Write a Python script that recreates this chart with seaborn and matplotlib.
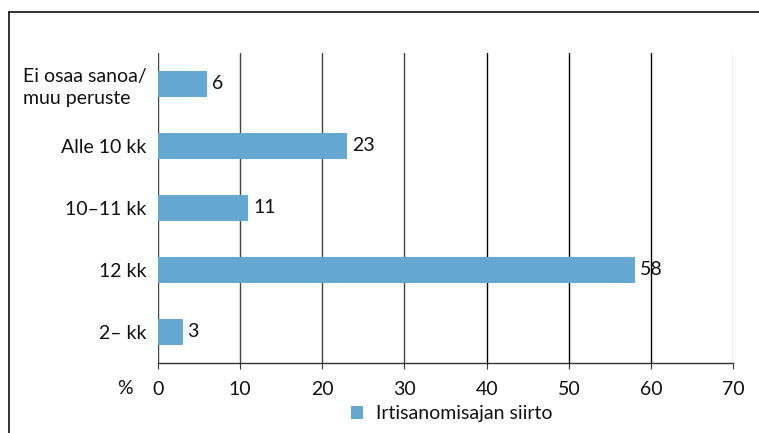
import matplotlib
matplotlib.use("Agg")
import matplotlib.pyplot as plt
import seaborn as sns
import pandas as pd
from matplotlib.lines import Line2D
from matplotlib.patches import Patch

categories = ["Ei osaa sanoa/\nmuu peruste", "Alle 10 kk", "10–11 kk", "12 kk", "2– kk"]
values = [6, 23, 11, 58, 3]
series_name = "Irtisanomisajan siirto"
x_ticks = [0, 10, 20, 30, 40, 50, 60, 70]

sns.set_theme(style="white")
plt.rcParams["font.family"] = ["Lato", "DejaVu Sans"]

bar_color = "#64A8D2"
txt_color = "#111111"
fs = 14
df = pd.DataFrame({"category": categories, "value": values})

fig = plt.figure(figsize=(7.59, 4.33), dpi=100)
ax = fig.add_axes([0.208, 0.162, 0.758, 0.716])

sns.barplot(data=df, x="value", y="category", orient="h", color=bar_color,
            width=0.42, saturation=1, linewidth=0, ax=ax, zorder=3)

ax.set_xlim(0, 70)
ax.set_xticks(x_ticks)
ax.set_xticklabels([str(t) for t in x_ticks], fontsize=fs, color=txt_color)
ax.tick_params(axis="x", length=4, width=0.8, color="#333333", direction="out", pad=9,
               bottom=True)
ax.tick_params(axis="y", length=0, labelsize=fs, pad=8, labelcolor=txt_color)
for lbl in ax.get_yticklabels():
    lbl.set_multialignment("left")
    lbl.set_linespacing(1.35)
ax.set_xlabel("")
ax.set_ylabel("")

# vertical gridlines
for t in x_ticks:
    if t == 70:
        c = "#bbbbbb"
    elif t < 40:
        c = "#444444"
    else:
        c = "#000000"
    ax.axvline(t, color=c, lw=1.0, zorder=1)

for s in ["top", "right", "left"]:
    ax.spines[s].set_visible(False)
ax.spines["bottom"].set_color("#333333")
ax.spines["bottom"].set_linewidth(1.0)

# value labels
for i, v in enumerate(values):
    ax.text(v + 0.6, i, str(v), va="center", ha="left", fontsize=fs, color=txt_color,
            zorder=4)

fig.text(125 / 759, 1 - 388 / 433, "%", ha="center", va="center", fontsize=fs,
         color=txt_color)

handles = [Patch(facecolor=bar_color, edgecolor="none", label=series_name)]
fig.legend(handles=handles, loc="center", bbox_to_anchor=(452 / 759, 1 - 414 / 433),
           frameon=False, fontsize=fs, handlelength=0.6, handleheight=0.6,
           handletextpad=0.7, labelcolor=txt_color)

# outer frame lines (top and left)
fig.add_artist(Line2D([9 / 759, 1.0], [1 - 12 / 433, 1 - 12 / 433],
                      transform=fig.transFigure, color="#111111", lw=1.2))
fig.add_artist(Line2D([9 / 759, 9 / 759], [0, 1 - 12 / 433],
                      transform=fig.transFigure, color="#111111", lw=1.2))

fig.savefig("out.png", dpi=100, facecolor="white")
